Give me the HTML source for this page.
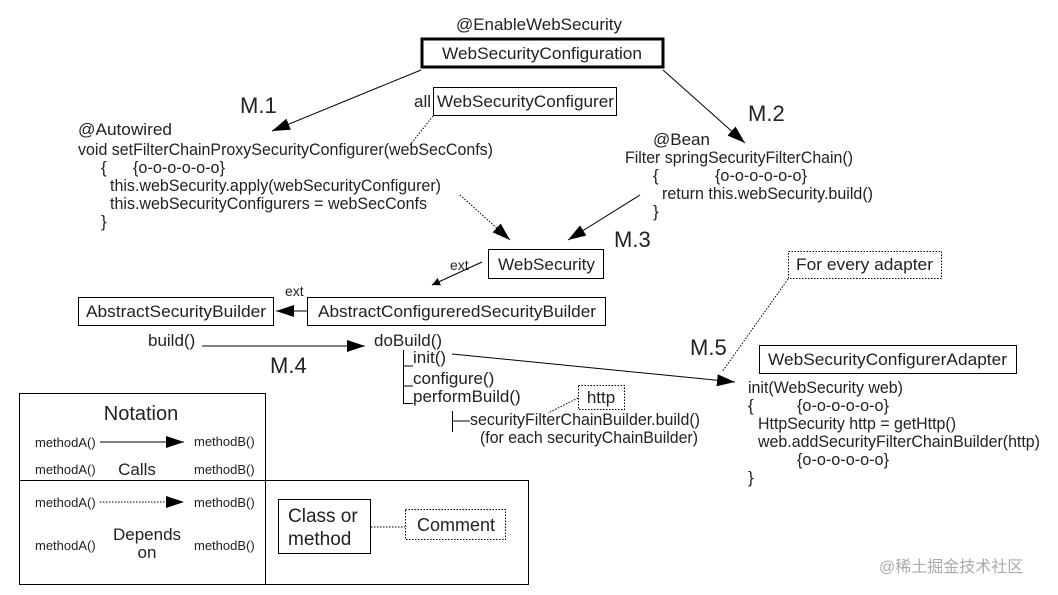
<!DOCTYPE html>
<html><head><meta charset="utf-8"><style>
html,body{margin:0;padding:0;background:#fff;}
svg{display:block;}
text{font-family:"Liberation Sans",sans-serif;fill:#222;}
</style></head><body>
<svg width="1058" height="595" viewBox="0 0 1058 595" xmlns="http://www.w3.org/2000/svg">
<defs>
<marker id="a" viewBox="0 0 10 10" refX="10" refY="5" markerWidth="10" markerHeight="8" markerUnits="userSpaceOnUse" orient="auto"><path d="M0,0L10,5L0,10z" fill="#000"/></marker>
<marker id="b" viewBox="0 0 10 10" refX="10" refY="5" markerWidth="18" markerHeight="12" markerUnits="userSpaceOnUse" orient="auto" preserveAspectRatio="none"><path d="M0,0L10,5L0,10z" fill="#000"/></marker>
</defs>
<g font-size="17">
<text x="539" y="30" text-anchor="middle" textLength="166" lengthAdjust="spacingAndGlyphs">@EnableWebSecurity</text>
<rect x="422" y="39" width="241" height="28" fill="none" stroke="#000" stroke-width="3"/>
<text x="542" y="59" text-anchor="middle" textLength="200" lengthAdjust="spacingAndGlyphs">WebSecurityConfiguration</text>

<line x1="421" y1="70" x2="272" y2="131" stroke="#000" marker-end="url(#b)"/>
<line x1="663" y1="70" x2="745" y2="143" stroke="#000" marker-end="url(#b)"/>
<text x="240" y="113" font-size="22">M.1</text>
<text x="748" y="121" font-size="22">M.2</text>

<text x="414" y="107">all</text>
<rect x="433.5" y="87.5" width="183" height="28" fill="none" stroke="#000"/>
<text x="437" y="107" textLength="177" lengthAdjust="spacingAndGlyphs">WebSecurityConfigurer</text>
<line x1="433" y1="116" x2="410" y2="145" stroke="#000" stroke-dasharray="1.5,1.5"/>

<text x="78" y="135" textLength="94" lengthAdjust="spacingAndGlyphs">@Autowired</text>
<text x="78" y="155" textLength="415" lengthAdjust="spacingAndGlyphs">void setFilterChainProxySecurityConfigurer(webSecConfs)</text>
<text x="101" y="173">{</text><text x="133" y="173" textLength="92" lengthAdjust="spacingAndGlyphs">{o-o-o-o-o-o}</text>
<text x="110" y="191" textLength="331" lengthAdjust="spacingAndGlyphs">this.webSecurity.apply(webSecurityConfigurer)</text>
<text x="110" y="209" textLength="317" lengthAdjust="spacingAndGlyphs">this.webSecurityConfigurers = webSecConfs</text>
<text x="101" y="227">}</text>

<line x1="460" y1="195" x2="510" y2="240" stroke="#000" stroke-dasharray="1.5,1.5" marker-end="url(#b)"/>

<text x="653" y="145">@Bean</text>
<text x="625" y="163" textLength="228" lengthAdjust="spacingAndGlyphs">Filter springSecurityFilterChain()</text>
<text x="653" y="181">{</text><text x="715" y="181" textLength="92" lengthAdjust="spacingAndGlyphs">{o-o-o-o-o-o}</text>
<text x="662" y="199" textLength="211" lengthAdjust="spacingAndGlyphs">return this.webSecurity.build()</text>
<text x="653" y="217">}</text>
<line x1="640" y1="195" x2="568" y2="240" stroke="#000" marker-end="url(#b)"/>
<text x="614" y="247" font-size="22">M.3</text>

<rect x="488.5" y="249.5" width="115" height="29" fill="none" stroke="#000"/>
<text x="498" y="270" textLength="97" lengthAdjust="spacingAndGlyphs">WebSecurity</text>
<text x="450" y="270" font-size="14">ext</text>
<line x1="482" y1="262" x2="432" y2="285" stroke="#000" marker-end="url(#a)"/>

<text x="285" y="296" font-size="14">ext</text>
<rect x="78.5" y="297.5" width="195" height="28" fill="none" stroke="#000"/>
<text x="86" y="317" textLength="180" lengthAdjust="spacingAndGlyphs">AbstractSecurityBuilder</text>
<rect x="307.5" y="297.5" width="298" height="28" fill="none" stroke="#000"/>
<text x="318" y="317" textLength="278" lengthAdjust="spacingAndGlyphs">AbstractConfigureredSecurityBuilder</text>
<line x1="307" y1="311" x2="276" y2="311" stroke="#000" marker-end="url(#b)"/>

<text x="148" y="346">build()</text>
<line x1="202" y1="346" x2="365" y2="346" stroke="#000" marker-end="url(#b)"/>
<text x="374" y="346">doBuild()</text>
<text x="270" y="373" font-size="22">M.4</text>

<path d="M403.5,350V403.5H413M403.5,366H413M403.5,386H413" fill="none" stroke="#000"/>
<text x="413" y="363">init()</text>
<text x="413" y="384">configure()</text>
<text x="413" y="402">performBuild()</text>
<rect x="578.5" y="385.5" width="46" height="24" fill="none" stroke="#000" stroke-dasharray="1.5,1.5"/>
<text x="601" y="403" text-anchor="middle">http</text>
<line x1="578" y1="398" x2="548" y2="413" stroke="#000" stroke-dasharray="1.5,1.5"/>
<path d="M452.5,411V432M452.5,421H470" fill="none" stroke="#000"/>
<text x="470" y="425" textLength="230" lengthAdjust="spacingAndGlyphs">securityFilterChainBuilder.build()</text>
<text x="480" y="443" textLength="218" lengthAdjust="spacingAndGlyphs">(for each securityChainBuilder)</text>

<line x1="452" y1="354" x2="735" y2="382" stroke="#000" marker-end="url(#b)"/>
<text x="690" y="355" font-size="22">M.5</text>

<rect x="788.5" y="251.5" width="153" height="27" fill="none" stroke="#000" stroke-dasharray="1.5,1.5"/>
<text x="796" y="270" textLength="137" lengthAdjust="spacingAndGlyphs">For every adapter</text>
<line x1="788" y1="279" x2="722" y2="372" stroke="#000" stroke-dasharray="1.5,1.5"/>

<rect x="759.5" y="345.5" width="257" height="28" fill="none" stroke="#000"/>
<text x="768" y="365" textLength="239" lengthAdjust="spacingAndGlyphs">WebSecurityConfigurerAdapter</text>
<text x="748" y="393" textLength="155" lengthAdjust="spacingAndGlyphs">init(WebSecurity web)</text>
<text x="748" y="411">{</text><text x="797" y="411" textLength="92" lengthAdjust="spacingAndGlyphs">{o-o-o-o-o-o}</text>
<text x="758" y="429" textLength="198" lengthAdjust="spacingAndGlyphs">HttpSecurity http = getHttp()</text>
<text x="758" y="447" textLength="282" lengthAdjust="spacingAndGlyphs">web.addSecurityFilterChainBuilder(http)</text>
<text x="797" y="465" textLength="92" lengthAdjust="spacingAndGlyphs">{o-o-o-o-o-o}</text>
<text x="748" y="483">}</text>

<!-- notation -->
<rect x="19.5" y="393.5" width="246" height="191" fill="none" stroke="#000"/>
<rect x="265.5" y="480.5" width="263" height="104" fill="none" stroke="#000"/>
<line x1="19" y1="480.5" x2="266" y2="480.5" stroke="#000"/>
<text x="141" y="420" text-anchor="middle" font-size="20">Notation</text>
<g font-size="13">
<text x="35" y="447">methodA()</text><text x="194" y="446">methodB()</text>
<text x="35" y="474">methodA()</text><text x="194" y="474">methodB()</text>
<text x="35" y="507">methodA()</text><text x="194" y="507">methodB()</text>
<text x="35" y="550">methodA()</text><text x="194" y="550">methodB()</text>
</g>
<line x1="100" y1="442" x2="184" y2="442" stroke="#000" marker-end="url(#b)"/>
<line x1="100" y1="502" x2="184" y2="502" stroke="#000" stroke-dasharray="1.5,1.5" marker-end="url(#b)"/>
<text x="137" y="475" text-anchor="middle">Calls</text>
<text x="147" y="540" text-anchor="middle">Depends</text>
<text x="147" y="558" text-anchor="middle">on</text>
<rect x="278.5" y="499.5" width="92" height="54" fill="none" stroke="#000"/>
<text x="288" y="522" font-size="19">Class or</text>
<text x="288" y="545" font-size="19">method</text>
<line x1="371" y1="527" x2="405" y2="527" stroke="#000" stroke-dasharray="1.5,1.5"/>
<rect x="405.5" y="509.5" width="100" height="30" fill="none" stroke="#000" stroke-dasharray="1.5,1.5"/>
<text x="456" y="531" text-anchor="middle" font-size="18">Comment</text>

<text x="879" y="572" font-size="16" style="font-family:'Liberation Sans','Noto Sans CJK SC',sans-serif;fill:#aaa">@稀土掘金技术社区</text>
</g>
</svg>
</body></html>
